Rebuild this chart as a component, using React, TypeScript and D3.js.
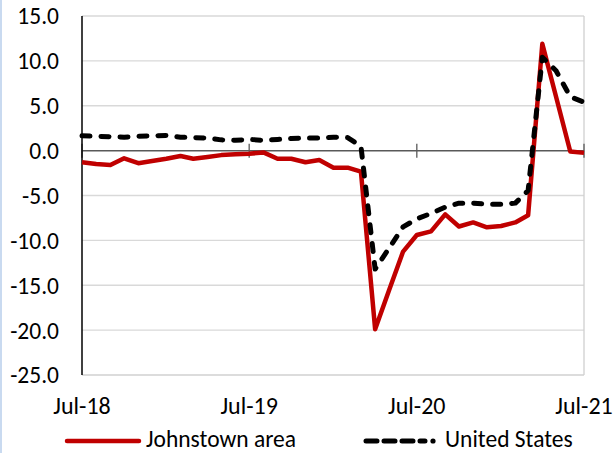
import React from "react";
import * as d3 from "d3";

const START = new Date(2018, 6, 1);
const johnstown = [
  -1.3, -1.5, -1.6, -0.85, -1.4, -1.15, -0.9, -0.6, -0.9, -0.7, -0.5, -0.4, -0.35,
  -0.2, -0.9, -0.9, -1.3, -1.05, -1.9, -1.9, -2.35, -19.9, -15.6, -11.25, -9.4,
  -9.0, -7.1, -8.45, -8.0, -8.55, -8.4, -8.0, -7.2, 11.9, 6.0, -0.1, -0.25,
];
const unitedStates = [
  1.65, 1.6, 1.55, 1.5, 1.6, 1.65, 1.7, 1.5, 1.45, 1.4, 1.2, 1.15, 1.25, 1.15, 1.25,
  1.35, 1.4, 1.4, 1.5, 1.45, 0.5, -13.2, -10.9, -8.5, -7.6, -7.0, -6.3, -5.85, -5.85,
  -5.97, -5.97, -5.85, -4.45, 10.4, 8.9, 6.0, 5.4,
];
const yTicks = [15, 10, 5, 0, -5, -10, -15, -20, -25];
const xTickLabels = ["Jul-18", "Jul-19", "Jul-20", "Jul-21"];
const xTickMonths = [0, 12, 24, 36];
const seriesNames = ["Johnstown area", "United States"];

const W = 616;
const H = 453;
const FONT = "Calibri, Carlito, Lato, 'Open Sans', sans-serif";

export default function App() {
  const dates = johnstown.map((_, i) => d3.timeMonth.offset(START, i));
  const x = d3
    .scaleTime()
    .domain([START, d3.timeMonth.offset(START, 36)])
    .range([82, 584]);
  const y = d3.scaleLinear().domain([-25, 15]).range([375, 16]);
  const line = d3
    .line<number>()
    .x((_, i) => x(dates[i]))
    .y((d) => y(d));

  return (
    <svg
      width={W}
      height={H}
      style={{ position: "absolute", left: 0, top: 0, background: "#fff" }}
      fontFamily={FONT}
    >
      <rect x={0} y={0} width={2} height={H} fill="#C9DAF0" />
      {yTicks
        .filter((t) => t !== 0 && t !== -25)
        .map((t) => (
          <line key={t} x1={82} x2={584} y1={y(t)} y2={y(t)} stroke="#D9D9D9" strokeWidth={1.3} />
        ))}
      <line x1={82} x2={584} y1={y(-25)} y2={y(-25)} stroke="#D0D0D0" strokeWidth={1.3} />
      <line x1={584} x2={584} y1={y(15)} y2={y(-25)} stroke="#D0D0D0" strokeWidth={1.3} />
      <line x1={82} x2={584} y1={y(0)} y2={y(0)} stroke="#595959" strokeWidth={1.5} />
      {xTickMonths.map((m) => {
        const xx = x(d3.timeMonth.offset(START, m));
        return <line key={m} x1={xx} x2={xx} y1={y(0) - 7} y2={y(0) + 7} stroke="#595959" strokeWidth={1.3} />;
      })}
      <line x1={82} x2={82} y1={y(15)} y2={y(-25)} stroke="#000" strokeWidth={1.5} />
      {yTicks.map((t) => (
        <text key={t} x={59} y={y(t)} dy="0.36em" textAnchor="end" fontSize={23.5} fill="#000">
          {t.toFixed(1)}
        </text>
      ))}
      {xTickMonths.map((m, i) => (
        <text key={m} x={x(d3.timeMonth.offset(START, m))} y={414} textAnchor="middle" fontSize={24} fill="#000">
          {xTickLabels[i]}
        </text>
      ))}
      <path d={line(johnstown) ?? ""} fill="none" stroke="#C00000" strokeWidth={4.5} strokeLinejoin="round" />
      <path
        d={line(unitedStates) ?? ""}
        fill="none"
        stroke="#000"
        strokeWidth={5}
        strokeDasharray="8 11"
        strokeLinecap="round"
        strokeLinejoin="round"
      />
      <line x1={67} x2={139} y1={441} y2={441} stroke="#C00000" strokeWidth={4.5} strokeLinecap="round" />
      <text x={146} y={447} fontSize={23.5} fill="#000">{seriesNames[0]}</text>
      <line
        x1={366}
        x2={425}
        y1={441}
        y2={441}
        stroke="#000"
        strokeWidth={5}
        strokeDasharray="11 7"
        strokeLinecap="round"
      />
      <circle cx={433} cy={441} r={2.6} fill="#000" />
      <text x={445} y={447} fontSize={23.5} fill="#000">{seriesNames[1]}</text>
    </svg>
  );
}
